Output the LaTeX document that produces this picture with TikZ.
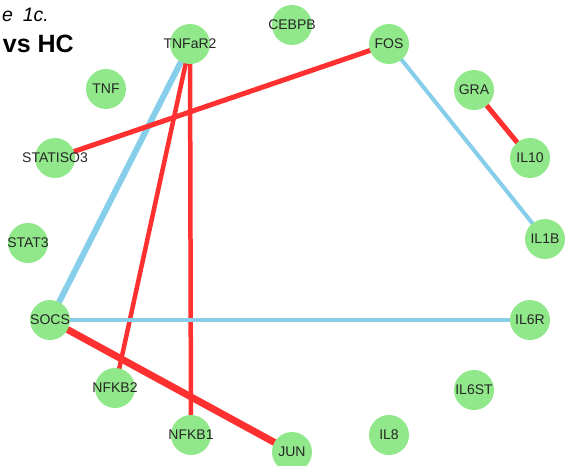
\documentclass[tikz,border=0pt]{standalone}
\usepackage{fontspec}
\setmainfont{Liberation Sans}
\usetikzlibrary{backgrounds}
\definecolor{genegreen}{RGB}{144,232,138}
\definecolor{upred}{RGB}{255,48,48}
\definecolor{downblue}{RGB}{135,206,235}

\begin{document}
\begin{tikzpicture}[x=1pt, y=-1pt,
  gene/.style={circle, fill=genegreen, minimum size=40pt, inner sep=0pt,
    label={[font=\fontsize{14}{15}\selectfont, text=black!85]center:#1}},
  up/.style={draw=upred, line width=#1},
  down/.style={draw=downblue, line width=#1}]
  \useasboundingbox (0,0) rectangle (566,466);
  % title, cut off at the left
  \node[anchor=base east, inner sep=0pt, font=\fontsize{19.5}{20}\selectfont\itshape] (fig) at (49,21) {e\hspace{0.5em}1c.};
  \node[anchor=base east, inner sep=0pt, font=\fontsize{25}{28}\selectfont\bfseries] (cmp) at (74,52) {vs HC};
  % genes on the circle
  \node[gene=CEBPB] (cebpb) at (292,25) {};
  \node[gene=TNFaR2] (tnfar2) at (190,44) {};
  \node[gene=FOS] (fos) at (389,44) {};
  \node[gene=TNF] (tnf) at (106,89) {};
  \node[gene=GRA] (gra) at (474,90) {};
  \node[gene=STATISO3] (statiso3) at (55,158) {};
  \node[gene=IL10] (il10) at (530,158) {};
  \node[gene=STAT3] (stat3) at (28,243) {};
  \node[gene=IL1B] (il1b) at (545,239) {};
  \node[gene=SOCS] (socs) at (50,320) {};
  \node[gene=IL6R] (il6r) at (530,320) {};
  \node[gene=NFKB2] (nfkb2) at (115,388) {};
  \node[gene=IL6ST] (il6st) at (474,390) {};
  \node[gene=NFKB1] (nfkb1) at (191,435) {};
  \node[gene=IL8] (il8) at (389,435) {};
  \node[gene=JUN] (jun) at (292,452) {};
  \begin{pgfonlayer}{background}
  \path
  (tnfar2.center) edge[down=6pt] (socs.center)
  edge[up=4.5pt] (nfkb2.center)
  edge[up=4.5pt] (nfkb1.center)
  (fos.center) edge[up=5pt] (statiso3.center)
  edge[down=4pt] (il1b.center)
  (gra.center) edge[up=5pt] (il10.center)
  (socs.center) edge[down=4pt] (il6r.center)
  edge[up=7pt] (jun.center)
  ;
  \end{pgfonlayer}
\end{tikzpicture}
\end{document}
